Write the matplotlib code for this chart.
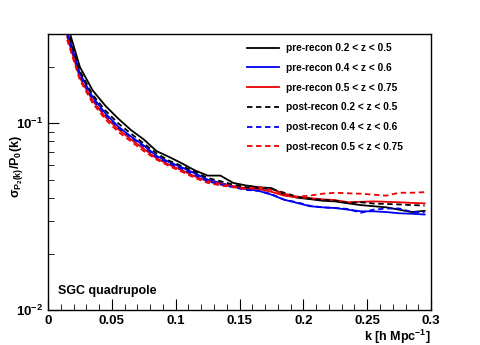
import numpy as np
import matplotlib
matplotlib.use("Agg")
import matplotlib.pyplot as plt
from matplotlib.ticker import MultipleLocator, LogLocator, NullFormatter

plt.rcParams['font.family'] = ['Liberation Sans', 'DejaVu Sans']
plt.rcParams['font.weight'] = 'bold'
plt.rcParams['mathtext.fontset'] = 'custom'
plt.rcParams['mathtext.rm'] = 'Liberation Sans:bold'
plt.rcParams['mathtext.it'] = 'Liberation Sans:bold'
plt.rcParams['mathtext.bf'] = 'Liberation Sans:bold'

# k bins
k = [0.015, 0.025, 0.035, 0.045, 0.055, 0.065, 0.075, 0.085, 0.095, 0.105,
     0.115, 0.125, 0.135, 0.145, 0.155, 0.165, 0.175, 0.185, 0.195, 0.205,
     0.215, 0.225, 0.235, 0.245, 0.255, 0.265, 0.275, 0.285, 0.295]

pre_low = [0.34, 0.20, 0.15, 0.124, 0.106, 0.092, 0.082, 0.071, 0.066, 0.061,
           0.056, 0.0525, 0.0525, 0.048, 0.0465, 0.0455, 0.045, 0.0415, 0.040, 0.0393,
           0.0385, 0.0382, 0.0373, 0.0365, 0.036, 0.0355, 0.0345, 0.0335, 0.034]
pre_mid = [0.31, 0.185, 0.138, 0.113, 0.096, 0.085, 0.076, 0.067, 0.062, 0.058,
           0.054, 0.050, 0.048, 0.046, 0.0445, 0.0435, 0.0415, 0.039, 0.0375, 0.036,
           0.0355, 0.0352, 0.0345, 0.0338, 0.0338, 0.0335, 0.033, 0.0328, 0.0325]
pre_high = [0.29, 0.175, 0.132, 0.108, 0.093, 0.082, 0.073, 0.065, 0.060, 0.056,
            0.052, 0.049, 0.0475, 0.046, 0.045, 0.0445, 0.043, 0.041, 0.0402, 0.0398,
            0.0392, 0.0388, 0.0378, 0.038, 0.0382, 0.038, 0.0378, 0.0375, 0.0373]
post_low = [0.32, 0.19, 0.142, 0.117, 0.100, 0.088, 0.078, 0.069, 0.063, 0.059,
            0.055, 0.051, 0.049, 0.047, 0.0455, 0.045, 0.0445, 0.0425, 0.0405, 0.0395,
            0.039, 0.0385, 0.0375, 0.0378, 0.0372, 0.037, 0.0368, 0.0365, 0.0363]
post_mid = [0.30, 0.18, 0.135, 0.111, 0.095, 0.084, 0.075, 0.066, 0.061, 0.057,
            0.053, 0.049, 0.047, 0.0455, 0.044, 0.0435, 0.0418, 0.039, 0.0378, 0.0362,
            0.0355, 0.0352, 0.0348, 0.0332, 0.0345, 0.035, 0.035, 0.0335, 0.0333]
post_high = [0.28, 0.17, 0.128, 0.105, 0.090, 0.080, 0.071, 0.064, 0.059, 0.055,
             0.051, 0.048, 0.0465, 0.0455, 0.0445, 0.0455, 0.044, 0.042, 0.0405, 0.041,
             0.042, 0.0425, 0.0422, 0.042, 0.0415, 0.041, 0.0425, 0.0425, 0.0428]

labels = ["pre-recon 0.2 < z < 0.5", "pre-recon 0.4 < z < 0.6", "pre-recon 0.5 < z < 0.75",
          "post-recon 0.2 < z < 0.5", "post-recon 0.4 < z < 0.6", "post-recon 0.5 < z < 0.75"]

fig = plt.figure(figsize=(4.8, 3.45), dpi=100)
ax = fig.add_axes([0.1, 0.101, 0.798, 0.8])

series = [pre_low, pre_mid, pre_high, post_low, post_mid, post_high]
colors = ['black', '#0000ee', '#ee0000'] * 2
styles = ['-'] * 3 + [(0, (3, 2))] * 3
for s, c, ls, lab in zip(series, colors, styles, labels):
    ax.plot(k, s, color=c, ls=ls, lw=1.3, label=lab)

ax.set_yscale('log')
ax.set_xlim(0, 0.3)
ax.set_ylim(0.01, 0.3)
ax.set_xticks([0, 0.05, 0.1, 0.15, 0.2, 0.25, 0.3])
ax.set_xticklabels(['0', '0.05', '0.1', '0.15', '0.2', '0.25', '0.3'])
ax.xaxis.set_minor_locator(MultipleLocator(0.01))
ax.yaxis.set_minor_locator(LogLocator(base=10, subs=np.arange(2, 10)))
ax.yaxis.set_minor_formatter(NullFormatter())
ax.set_yticks([0.01, 0.1])
ax.set_yticklabels([r'$10^{-2}$', r'$10^{-1}$'])
ax.tick_params(which='both', direction='in', top=False, right=False, labelsize=9.5)
ax.tick_params(which='major', length=8)
ax.tick_params(which='minor', length=4)
for sp in ax.spines.values():
    sp.set_linewidth(1.0)

ax.set_xlabel(r'k [h Mpc$^{-1}$]', fontsize=9, fontweight='bold', ha='right')
ax.xaxis.set_label_coords(1.0, -0.065)
ax.xaxis.label.set_va('top')
ax.set_ylabel(r'$\sigma_{P_{2}(k)}/P_{0}(k)$', fontsize=9)
ax.yaxis.set_label_coords(-0.06, 0.52)

ax.text(0.025, 0.06, 'SGC quadrupole', transform=ax.transAxes, fontsize=9, fontweight='bold')

leg = ax.legend(loc='upper left', bbox_to_anchor=(0.508, 0.982), borderaxespad=0,
                frameon=False, fontsize=7.3,
                handlelength=3.15, handletextpad=0.7, labelspacing=0.96)

fig.savefig('out.png', dpi=100)
